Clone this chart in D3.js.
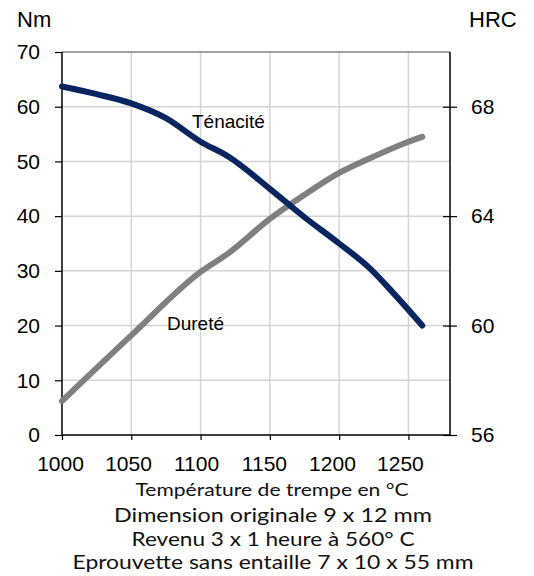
<!DOCTYPE html>
<html><head><meta charset="utf-8">
<script src="https://cdn.jsdelivr.net/npm/d3@7"></script>
<style>body{margin:0;background:#fff}svg{display:block}</style>
</head><body>
<script>
const temps      = [1000, 1025, 1050, 1075, 1100, 1120, 1150, 1175, 1200, 1222, 1240, 1260];
const tenacite   = [63.7, 62.3, 60.6, 57.9, 53.6, 50.9, 45.0, 39.8, 35.0, 30.5, 25.7, 20.0];
const dureteT    = [1000, 1050, 1100, 1120, 1150, 1175, 1200, 1225, 1250, 1260];
const durete     = [57.24, 59.64, 61.96, 62.64, 63.90, 64.78, 65.58, 66.18, 66.72, 66.90];
const xTicks     = [1000, 1050, 1100, 1150, 1200, 1250];
const yLeftTicks = [0, 10, 20, 30, 40, 50, 60, 70];
const yRightTicks= [56, 60, 64, 68];
const xTitle = "Température de trempe en °C";
const notes = ["Dimension originale 9 x 12 mm", "Revenu 3 x 1 heure à 560° C", "Eprouvette sans entaille 7 x 10 x 55 mm"];

const W = 534, H = 576;
const L = 62, R = 450, T = 52, B = 435;
const svg = d3.select("body").append("svg").attr("width", W).attr("height", H);

const x = d3.scaleLinear().domain([1000, 1280]).range([L, R]);
const yL = d3.scaleLinear().domain([0, 70]).range([B, T]);
const yR = d3.scaleLinear().domain([56, 70]).range([B, T]);

// grid
const g = svg.append("g");
g.selectAll(".hg").data(yLeftTicks.filter(d => d > 0 && d < 70)).enter().append("line")
  .attr("x1", L).attr("x2", R).attr("y1", d => yL(d)).attr("y2", d => yL(d))
  .attr("stroke", "#d4d4d4").attr("stroke-width", 1.5);
g.selectAll(".vg").data(xTicks.filter(d => d > 1000)).enter().append("line")
  .attr("y1", T).attr("y2", B).attr("x1", d => x(d)).attr("x2", d => x(d))
  .attr("stroke", "#d4d4d4").attr("stroke-width", 1.5);
// top border
svg.append("line").attr("x1", L).attr("x2", R).attr("y1", T).attr("y2", T)
  .attr("stroke", "#808080").attr("stroke-width", 1.5);

const font = "'Liberation Sans', Arial, sans-serif";

// left axis
const axL = svg.append("g").attr("transform", `translate(${L},0)`)
  .call(d3.axisLeft(yL).tickValues(yLeftTicks).tickSize(7).tickPadding(15));
axL.select(".domain").attr("stroke", "#000").attr("stroke-width", 1.5).attr("d", `M0,${T}V${B}`);
axL.selectAll(".tick line").attr("stroke", "#000").attr("stroke-width", 1.2);
axL.selectAll("text").attr("font-family", font).attr("font-size", 21).attr("fill", "#000");

// right axis
const axR = svg.append("g").attr("transform", `translate(${R},0)`)
  .call(d3.axisRight(yR).tickValues(yRightTicks).tickSize(7).tickPadding(14));
axR.select(".domain").attr("stroke", "#000").attr("stroke-width", 1.5).attr("d", `M0,${T}V${B}`);
axR.selectAll(".tick line").attr("stroke", "#000").attr("stroke-width", 1.2).attr("x1", -7);
axR.selectAll("text").attr("font-family", font).attr("font-size", 21).attr("fill", "#000");

// bottom axis
const axB = svg.append("g").attr("transform", `translate(0,${B})`)
  .call(d3.axisBottom(x).tickValues(xTicks).tickSize(5).tickPadding(16).tickFormat(d3.format("d")));
axB.select(".domain").attr("stroke", "#000").attr("stroke-width", 1.5).attr("d", `M${L},0H${R}`);
axB.selectAll(".tick line").attr("stroke", "#000").attr("stroke-width", 1.2);
axB.selectAll("text").attr("font-family", font).attr("font-size", 21).attr("fill", "#000")
  .attr("dx", (d, i) => -2 - 1.3 * i);

// lines
const lineT = d3.line().x((d, i) => x(temps[i])).y(d => yL(d)).curve(d3.curveMonotoneX);
const lineD = d3.line().x((d, i) => x(dureteT[i])).y(d => yR(d)).curve(d3.curveMonotoneX);
svg.append("path").attr("d", lineD(durete)).attr("fill", "none")
  .attr("stroke", "#808080").attr("stroke-width", 6).attr("stroke-linecap", "round").attr("stroke-linejoin", "round");
svg.append("path").attr("d", lineT(tenacite)).attr("fill", "none")
  .attr("stroke", "#082560").attr("stroke-width", 6).attr("stroke-linecap", "round").attr("stroke-linejoin", "round");

// series labels
svg.append("text").attr("x", 192).attr("y", 128).text("Ténacité")
  .attr("font-family", font).attr("font-size", 19).attr("fill", "#000");
svg.append("text").attr("x", 167).attr("y", 330).text("Dureté")
  .attr("font-family", font).attr("font-size", 19).attr("fill", "#000");

// axis titles
svg.append("text").attr("x", 17).attr("y", 27).text("Nm")
  .attr("font-family", font).attr("font-size", 22).attr("fill", "#000");
svg.append("text").attr("x", 469).attr("y", 27).text("HRC")
  .attr("font-family", font).attr("font-size", 22).attr("fill", "#000");

const f2 = "Lato, 'Open Sans', sans-serif";
svg.append("text").attr("x", 272).attr("y", 496).attr("text-anchor", "middle")
  .text(xTitle).attr("font-family", f2).attr("font-size", 17).attr("fill", "#111")
  .attr("textLength", 273).attr("lengthAdjust", "spacingAndGlyphs");
const widths = [318, 283, 401];
const bases = [522, 546, 569];
notes.forEach((t, i) => {
  svg.append("text").attr("x", 273).attr("y", bases[i]).attr("text-anchor", "middle")
    .text(t).attr("font-family", f2).attr("font-size", 19).attr("fill", "#111")
    .attr("textLength", widths[i]).attr("lengthAdjust", "spacingAndGlyphs");
});
</script>
</body></html>
